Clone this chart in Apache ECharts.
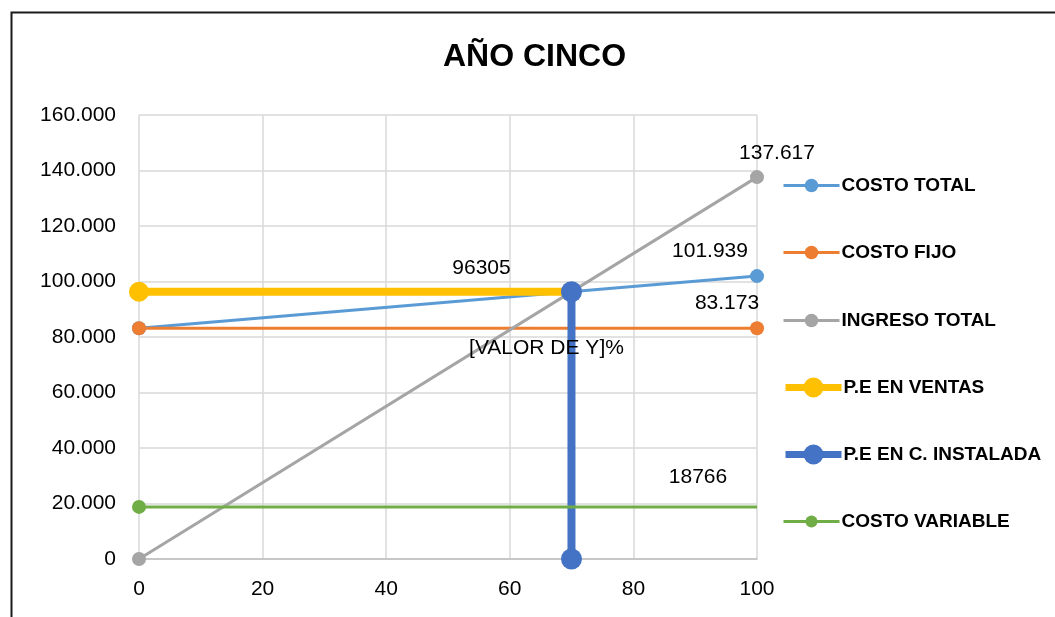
<!DOCTYPE html>
<html>
<head>
<meta charset="utf-8">
<script src="https://cdn.jsdelivr.net/npm/echarts@6/dist/echarts.min.js"></script>
<style>
  html, body { margin: 0; padding: 0; background: #fff; }
  #chart { width: 1055px; height: 617px; }
</style>
</head>
<body>
<div id="chart"></div>
<script>
// Punto de equilibrio — año cinco
const xTicks = [0, 20, 40, 60, 80, 100];
const xVals = [0, 100];
const costoTotal = [83173, 101939];
const costoFijo = [83173, 83173];
const ingresoTotal = [0, 137617];
const costoVariable = [18766, 18766];
const peUnidades = 69.98;       // capacidad instalada en el punto de equilibrio
const peVentas = 96305;         // ventas en el punto de equilibrio
const peEtiqueta = '[VALOR DE Y]%';
const seriesNames = ['COSTO TOTAL', 'COSTO FIJO', 'INGRESO TOTAL', 'P.E EN VENTAS', 'P.E EN C. INSTALADA', 'COSTO VARIABLE'];
const colors = ['#5B9BD5', '#ED7D31', '#A5A5A5', '#FFC000', '#4472C4', '#70AD47'];

const FONT = 'Liberation Sans';
const miles = v => String(Math.round(v)).replace(/\B(?=(\d{3})+(?!\d))/g, '.');
const pairs = (xs, ys) => xs.map((x, i) => [x, ys[i]]);

const labelStyle = { fontFamily: FONT, fontSize: 21, color: '#000' };

function lastLabel(data, formatter, offset) {
  const out = data.map(d => ({ value: d }));
  out[out.length - 1].label = Object.assign({ show: true, position: 'top', offset, formatter }, labelStyle);
  return out;
}

const costoTotalData = lastLabel(pairs(xVals, costoTotal), p => miles(p.value[1]), [-47, -2]);
const costoFijoData = lastLabel(pairs(xVals, costoFijo), p => miles(p.value[1]), [-30, -2]);
const ingresoData = lastLabel(pairs(xVals, ingresoTotal), p => miles(p.value[1]), [20, -1]);
const ventasData = lastLabel([[0, peVentas], [peUnidades, peVentas]], p => String(p.value[1]), [-90, 2]);
const instaladaData = [
  { value: [peUnidades, peVentas], label: Object.assign({ show: true, position: 'bottom', offset: [-25, 30], formatter: peEtiqueta }, labelStyle) },
  { value: [peUnidades, 0] }
];
const variableData = lastLabel(pairs(xVals, costoVariable), p => String(p.value[1]), [-59, -14]);
variableData[1].symbolSize = 0;

const lineWidths = [3, 3, 3, 8, 8, 3];
const symbolSizes = [14, 14, 14, 20, 21, 14];
const seriesData = [costoTotalData, costoFijoData, ingresoData, ventasData, instaladaData, variableData];

const series = seriesNames.map((name, i) => ({
  name,
  type: 'line',
  data: seriesData[i],
  symbol: 'circle',
  symbolSize: symbolSizes[i],
  showAllSymbol: true,
  color: colors[i],
  lineStyle: { width: lineWidths[i], color: colors[i], cap: 'butt' },
  itemStyle: { color: colors[i] },
  emphasis: { disabled: true },
  animation: false
}));

// one legend per entry so each icon keeps its own size
const legendRows = [187, 254, 322, 390, 457, 523];
const legendIcon = [17, 17, 17, 25, 25, 15];
const legendLine = [3, 3, 3, 7, 7, 3];
const legend = seriesNames.map((name, i) => ({
  data: [name],
  left: 782,
  top: legendRows[i] - Math.max(legendIcon[i], 22) / 2,
  padding: 0,
  itemWidth: 56,
  itemHeight: legendIcon[i],
  itemGap: 0,
  selectedMode: false,
  lineStyle: { width: legendLine[i], color: colors[i] },
  textStyle: { fontFamily: FONT, fontSize: 19, fontWeight: 'bold', color: '#000', padding: [0, 0, 0, -3] }
}));

const chart = echarts.init(document.getElementById('chart'), null, { renderer: 'canvas' });
chart.setOption({
  backgroundColor: '#fff',
  animation: false,
  title: {
    text: 'AÑO CINCO',
    left: 443,
    top: 41,
    padding: 0,
    textStyle: { fontFamily: FONT, fontSize: 32, fontWeight: 'bold', color: '#000' }
  },
  graphic: [{
    type: 'rect',
    left: 9, top: 10,
    shape: { width: 1100, height: 700 },
    style: { fill: 'none', stroke: '#1a1a1a', lineWidth: 2 },
    silent: true
  }],
  legend,
  grid: { left: 139, right: 298, top: 115, bottom: 58, containLabel: false },
  xAxis: {
    type: 'value',
    min: xTicks[0], max: xTicks[xTicks.length - 1], interval: 20,
    axisLine: { show: true, lineStyle: { color: '#BFBFBF', width: 1.5 } },
    axisTick: { show: false },
    splitLine: { show: true, lineStyle: { color: '#D9D9D9', width: 1.5 } },
    axisLabel: { margin: 20, fontFamily: FONT, fontSize: 21, color: '#000' }
  },
  yAxis: {
    type: 'value',
    min: 0, max: 160000, interval: 20000,
    axisLine: { show: false },
    axisTick: { show: false },
    splitLine: { show: true, lineStyle: { color: '#D9D9D9', width: 1.5 } },
    axisLabel: { margin: 23, fontFamily: FONT, fontSize: 21, color: '#000', formatter: v => miles(v) }
  },
  series
});
</script>
</body>
</html>
